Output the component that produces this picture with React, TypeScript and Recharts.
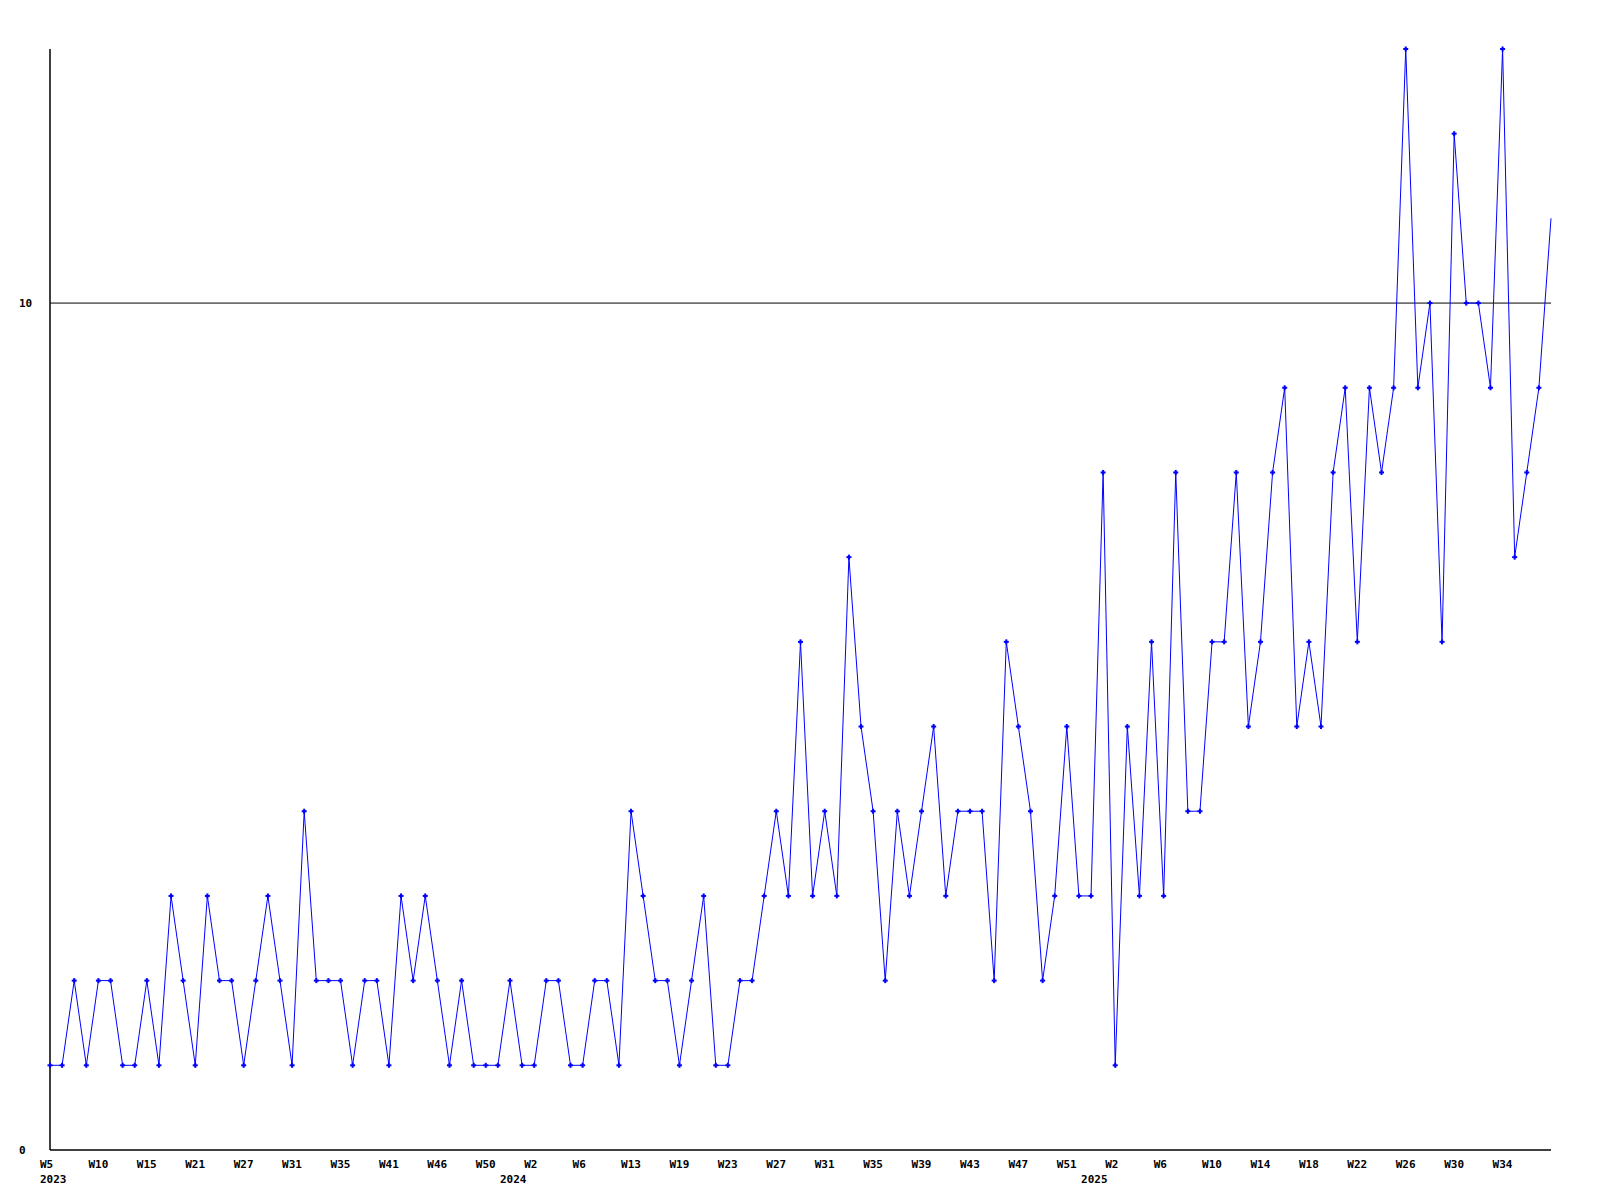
import React from 'react';
import { LineChart, Line, XAxis, YAxis, ReferenceLine } from 'recharts';

const weeks = [
  'W5', 'W6', 'W7', 'W9', 'W10', 'W11', 'W12', 'W13', 'W15', 'W16',
  'W17', 'W19', 'W21', 'W22', 'W24', 'W25', 'W27', 'W28', 'W29', 'W30',
  'W31', 'W32', 'W33', 'W34', 'W35', 'W36', 'W38', 'W39', 'W41', 'W42',
  'W43', 'W45', 'W46', 'W47', 'W48', 'W49', 'W50', 'W52', 'W0', 'W1',
  'W2', 'W3', 'W4', 'W5', 'W6', 'W8', 'W9', 'W11', 'W13', 'W14',
  'W16', 'W17', 'W19', 'W20', 'W21', 'W22', 'W23', 'W24', 'W25', 'W26',
  'W27', 'W28', 'W29', 'W30', 'W31', 'W32', 'W33', 'W34', 'W35', 'W36',
  'W37', 'W38', 'W39', 'W40', 'W41', 'W42', 'W43', 'W44', 'W45', 'W46',
  'W47', 'W48', 'W49', 'W50', 'W51', 'W52', 'W0', 'W1', 'W2', 'W3',
  'W4', 'W5', 'W6', 'W7', 'W8', 'W9', 'W10', 'W11', 'W12', 'W13',
  'W14', 'W15', 'W16', 'W17', 'W18', 'W19', 'W20', 'W21', 'W22', 'W23',
  'W24', 'W25', 'W26', 'W27', 'W28', 'W29', 'W30', 'W31', 'W32', 'W33',
  'W34', 'W35', 'W36', 'W37', 'W38',
];

const counts = [
  1, 1, 2, 1, 2, 2, 1, 1, 2, 1,
  3, 2, 1, 3, 2, 2, 1, 2, 3, 2,
  1, 4, 2, 2, 2, 1, 2, 2, 1, 3,
  2, 3, 2, 1, 2, 1, 1, 1, 2, 1,
  1, 2, 2, 1, 1, 2, 2, 1, 4, 3,
  2, 2, 1, 2, 3, 1, 1, 2, 2, 3,
  4, 3, 6, 3, 4, 3, 7, 5, 4, 2,
  4, 3, 4, 5, 3, 4, 4, 4, 2, 6,
  5, 4, 2, 3, 5, 3, 3, 8, 1, 5,
  3, 6, 3, 8, 4, 4, 6, 6, 8, 5,
  6, 8, 9, 5, 6, 5, 8, 9, 6, 9,
  8, 9, 13, 9, 10, 6, 12, 10, 10, 9,
  13, 7, 8, 9, 11,
];

// index of the first point of each year, and the year shown under it
const yearIndex = [0, 38, 86];
const yearLabels = ['2023', '2024', '2025'];

const yTicks = [0, 10];

const data = weeks.map((w, i) => ({ week: w, count: counts[i] }));
const lastIndex = data.length - 1;

const font = "'DejaVu Sans Mono', monospace";

const WeekTick = (props: any) => {
  const { x, y, payload, index } = props;
  const i = payload?.index ?? index;
  const yi = yearIndex.indexOf(i);
  return (
    <g>
      {i % 4 === 0 && i !== lastIndex && (
        <text x={x - 10} y={y + 16} fontFamily={font} fontSize={11} fontWeight="bold" fill="#000" textAnchor="start">
          {payload.value}
        </text>
      )}
      {yi >= 0 && (
        <text x={x - 10} y={y + 31} fontFamily={font} fontSize={11} fontWeight="bold" fill="#000" textAnchor="start">
          {yearLabels[yi]}
        </text>
      )}
    </g>
  );
};

const CountTick = (props: any) => {
  const { y, payload } = props;
  return (
    <text x={19} y={y + 4} fontFamily={font} fontSize={11} fontWeight="bold" fill="#000" textAnchor="start">
      {payload.value}
    </text>
  );
};

const Marker = (props: any) => {
  const { cx, cy, index } = props;
  if (cx == null || cy == null || index === lastIndex) return <g key={`m-${index}`} />;
  return (
    <g key={`m-${index}`} fill="#0000ff">
      <rect x={cx - 2.5} y={cy - 1} width={5} height={2} />
      <rect x={cx - 1} y={cy - 2.5} width={2} height={5} />
    </g>
  );
};

export default function App() {
  return (
    <div style={{ position: 'absolute', left: 0, top: 0, width: 1600, height: 1200, background: '#fff' }}>
      <LineChart width={1600} height={1200} data={data} margin={{ top: 49, right: 49, bottom: 0, left: 0 }}>
        <XAxis
          dataKey="week"
          interval={0}
          tick={<WeekTick />}
          tickLine={false}
          tickSize={0}
          height={50}
          axisLine={{ stroke: '#000', strokeWidth: 1.5 }}
        />
        <YAxis
          domain={[0, 13]}
          ticks={yTicks}
          tick={<CountTick />}
          tickLine={false}
          width={50}
          axisLine={{ stroke: '#000', strokeWidth: 1.5 }}
        />
        <ReferenceLine y={yTicks[1]} stroke="#000" strokeWidth={1} />
        <Line
          type="linear"
          dataKey="count"
          stroke="#0000ff"
          strokeWidth={1}
          dot={<Marker />}
          activeDot={false}
          isAnimationActive={false}
        />
      </LineChart>
    </div>
  );
}
